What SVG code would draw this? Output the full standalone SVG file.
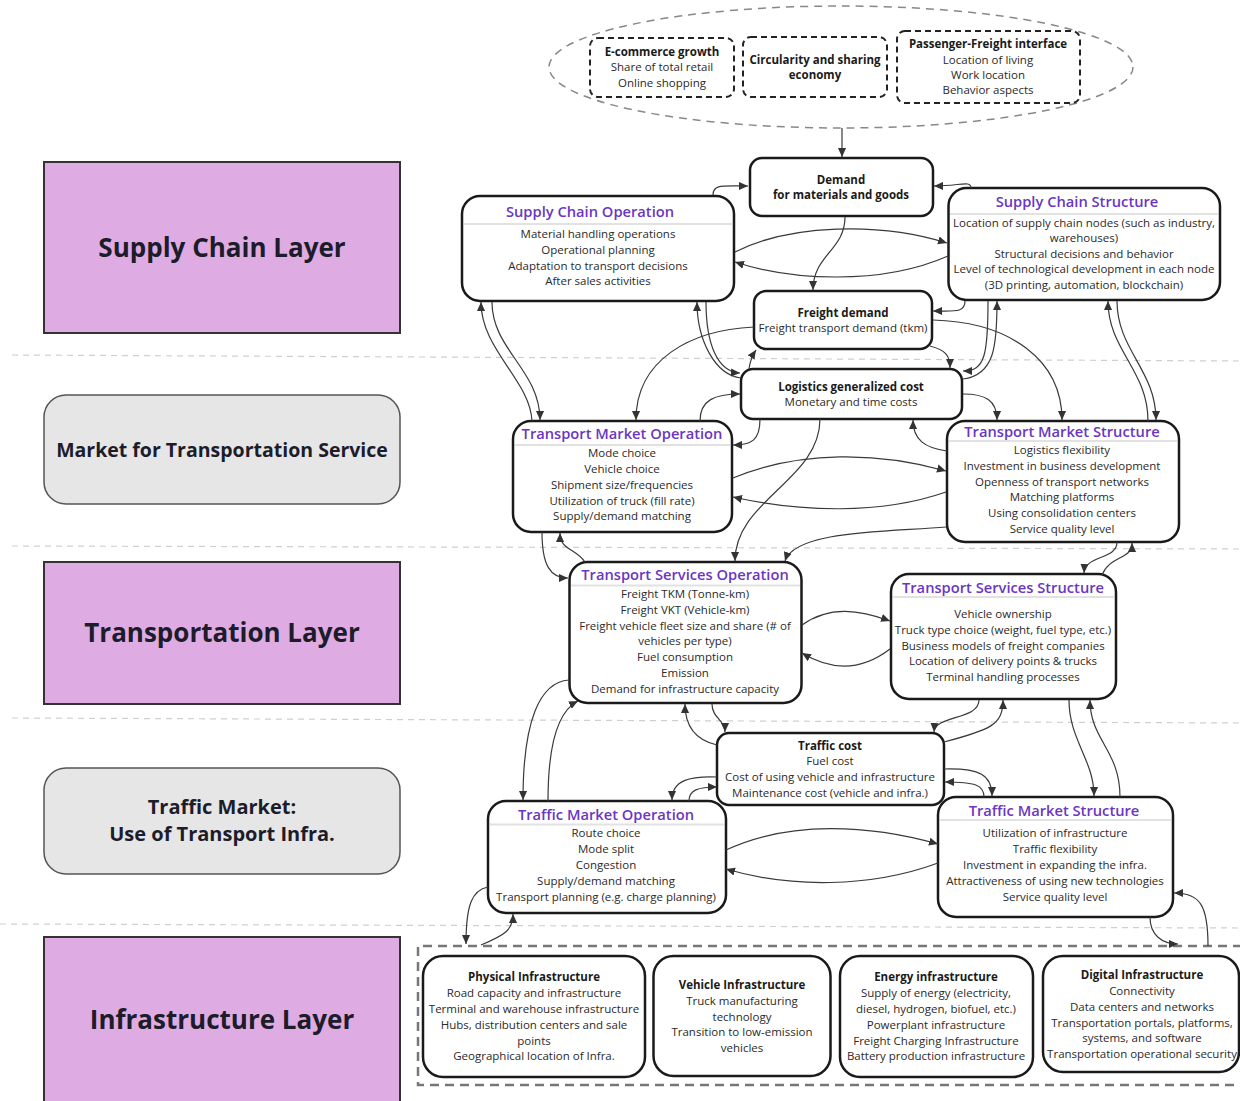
<svg xmlns="http://www.w3.org/2000/svg" width="1240" height="1101" viewBox="0 0 1240 1101">
<defs>
<marker id="ah" viewBox="0 0 10 10" refX="10" refY="5" markerWidth="9" markerHeight="9" markerUnits="userSpaceOnUse" orient="auto"><path d="M0,0.5 L10,5 L0,9.5 z" fill="#333"/></marker>
<style>
.lay{fill:#dfabe3;stroke:#333;stroke-width:2}
.mkt{fill:#e6e6e6;stroke:#555;stroke-width:1.5}
.layt{font-family:"Open Sans","Noto Sans",sans-serif;font-weight:700;fill:#1c1c2a;text-anchor:middle;dominant-baseline:central}
.sep{stroke:#cfcfcf;stroke-width:1.2;stroke-dasharray:6 5;fill:none}
.box{fill:#fff;stroke:#1a1a1a;stroke-width:2.5}
.dbox{fill:none;stroke:#222;stroke-width:2;stroke-dasharray:6 4}
.hdr{stroke:#e2e2e2;stroke-width:2}
.t{font-family:"Open Sans","Noto Sans",sans-serif;font-size:11.5px;fill:#2a2a2a;text-anchor:middle;dominant-baseline:central}
.b{font-weight:700;fill:#1a1a1a}
.ttl{font-size:14.7px;font-weight:600;fill:#6a36c2}
.con path{fill:none;stroke:#3a3a3a;stroke-width:1.2;marker-end:url(#ah)}
</style>
</defs>
<rect width="1240" height="1101" fill="#fff"/>

<g id="separators">
<path class="sep" d="M12,355 L1240,361"/>
<path class="sep" d="M12,546 L1240,549"/>
<path class="sep" d="M12,718 L1240,723"/>
<path class="sep" d="M0,924 L1240,928"/>
</g>

<g id="layer-supply-chain">
<rect class="lay" x="44" y="162" width="356" height="171"/>
<text class="layt" x="222" y="247" font-size="26">Supply Chain Layer</text>
</g>
<g id="layer-market-transport">
<rect class="mkt" x="44" y="395" width="356" height="109" rx="22"/>
<text class="layt" x="222" y="449" font-size="19.5">Market for Transportation Service</text>
</g>
<g id="layer-transportation">
<rect class="lay" x="44" y="562" width="356" height="142"/>
<text class="layt" x="222" y="632" font-size="26">Transportation Layer</text>
</g>
<g id="layer-traffic-market">
<rect class="mkt" x="44" y="768" width="356" height="106" rx="22"/>
<text class="layt" x="222" y="806" font-size="20">Traffic Market:</text>
<text class="layt" x="222" y="833" font-size="20">Use of Transport Infra.</text>
</g>
<g id="layer-infrastructure">
<rect class="lay" x="44" y="937" width="356" height="170"/>
<text class="layt" x="222" y="1019" font-size="26">Infrastructure Layer</text>
</g>

<g id="drivers">
<ellipse cx="841" cy="67" rx="292" ry="61" fill="none" stroke="#888" stroke-width="1.5" stroke-dasharray="8 6"/>
<g id="ecommerce">
<rect class="dbox" x="590" y="38" width="144" height="59" rx="8"/>
<text class="t b" x="662" y="51">E-commerce growth</text>
<text class="t" x="662" y="66">Share of total retail</text>
<text class="t" x="662" y="82">Online shopping</text>
</g>
<g id="circularity">
<rect class="dbox" x="743" y="37" width="144" height="60" rx="8"/>
<text class="t b" x="815" y="59">Circularity and sharing</text>
<text class="t b" x="815" y="74">economy</text>
</g>
<g id="passenger-freight">
<rect class="dbox" x="897" y="31" width="183" height="72" rx="8"/>
<text class="t b" x="988" y="43">Passenger-Freight interface</text>
<text class="t" x="988" y="59">Location of living</text>
<text class="t" x="988" y="74">Work location</text>
<text class="t" x="988" y="89">Behavior aspects</text>
</g>
</g>

<g id="infra-container">
<path d="M1242,946 H418 V1085 H1242" fill="none" stroke="#777" stroke-width="2.5" stroke-dasharray="9 6"/>
</g>

<g id="demand">
<rect class="box" x="750" y="158" width="183" height="58" rx="12"/>
<text class="t b" x="841" y="179">Demand</text>
<text class="t b" x="841" y="194">for materials and goods</text>
</g>
<g id="supply-chain-operation">
<rect class="box" x="462" y="196" width="272" height="105" rx="18"/>
<line class="hdr" x1="464" y1="224" x2="732" y2="224"/>
<text class="t ttl" x="590" y="211">Supply Chain Operation</text>
<text class="t" x="598" y="233">Material handling operations</text>
<text class="t" x="598" y="249">Operational planning</text>
<text class="t" x="598" y="265">Adaptation to transport decisions</text>
<text class="t" x="598" y="280">After sales activities</text>
</g>
<g id="supply-chain-structure">
<rect class="box" x="948.5" y="188" width="271.5" height="112" rx="18"/>
<line class="hdr" x1="950" y1="214" x2="1218" y2="214"/>
<text class="t ttl" x="1077" y="201">Supply Chain Structure</text>
<text class="t" x="1084" y="222">Location of supply chain nodes (such as industry,</text>
<text class="t" x="1084" y="237.5">warehouses)</text>
<text class="t" x="1084" y="253">Structural decisions and behavior</text>
<text class="t" x="1084" y="268.5">Level of technological development in each node</text>
<text class="t" x="1084" y="284">(3D printing, automation, blockchain)</text>
</g>
<g id="freight-demand">
<rect class="box" x="754" y="291" width="178" height="58" rx="12"/>
<text class="t b" x="843" y="312.5">Freight demand</text>
<text class="t" x="843" y="327.5">Freight transport demand (tkm)</text>
</g>
<g id="logistics-cost">
<rect class="box" x="741" y="369" width="221" height="50" rx="12"/>
<text class="t b" x="851" y="386">Logistics generalized cost</text>
<text class="t" x="851" y="401.5">Monetary and time costs</text>
</g>
<g id="transport-market-operation">
<rect class="box" x="513" y="421" width="219" height="111" rx="18"/>
<line class="hdr" x1="515" y1="445" x2="730" y2="445"/>
<text class="t ttl" x="622" y="433">Transport Market Operation</text>
<text class="t" x="622" y="452.5">Mode choice</text>
<text class="t" x="622" y="468">Vehicle choice</text>
<text class="t" x="622" y="484">Shipment size/frequencies</text>
<text class="t" x="622" y="500">Utilization of truck (fill rate)</text>
<text class="t" x="622" y="515.5">Supply/demand matching</text>
</g>
<g id="transport-market-structure">
<rect class="box" x="947" y="421" width="232" height="121" rx="18"/>
<line class="hdr" x1="949" y1="441" x2="1177" y2="441"/>
<text class="t ttl" x="1062" y="431">Transport Market Structure</text>
<text class="t" x="1062" y="449">Logistics flexibility</text>
<text class="t" x="1062" y="465">Investment in business development</text>
<text class="t" x="1062" y="481">Openness of transport networks</text>
<text class="t" x="1062" y="496.5">Matching platforms</text>
<text class="t" x="1062" y="512.5">Using consolidation centers</text>
<text class="t" x="1062" y="528">Service quality level</text>
</g>
<g id="transport-services-operation">
<rect class="box" x="569.5" y="562" width="232" height="141" rx="18"/>
<line class="hdr" x1="571" y1="585.5" x2="800" y2="585.5"/>
<text class="t ttl" x="685" y="574">Transport Services Operation</text>
<text class="t" x="685" y="593">Freight TKM (Tonne-km)</text>
<text class="t" x="685" y="609">Freight VKT (Vehicle-km)</text>
<text class="t" x="685" y="625">Freight vehicle fleet size and share (# of</text>
<text class="t" x="685" y="640.5">vehicles per type)</text>
<text class="t" x="685" y="656.5">Fuel consumption</text>
<text class="t" x="685" y="672">Emission</text>
<text class="t" x="685" y="688">Demand for infrastructure capacity</text>
</g>
<g id="transport-services-structure">
<rect class="box" x="891" y="574" width="225" height="125" rx="18"/>
<line class="hdr" x1="893" y1="597" x2="1114" y2="597"/>
<text class="t ttl" x="1003" y="586.5">Transport Services Structure</text>
<text class="t" x="1003" y="613.5">Vehicle ownership</text>
<text class="t" x="1003" y="629.5">Truck type choice (weight, fuel type, etc.)</text>
<text class="t" x="1003" y="645">Business models of freight companies</text>
<text class="t" x="1003" y="660.5">Location of delivery points &amp; trucks</text>
<text class="t" x="1003" y="676.5">Terminal handling processes</text>
</g>
<g id="traffic-cost">
<rect class="box" x="717" y="733" width="227" height="72" rx="12"/>
<text class="t b" x="830" y="745">Traffic cost</text>
<text class="t" x="830" y="760.5">Fuel cost</text>
<text class="t" x="830" y="776">Cost of using vehicle and infrastructure</text>
<text class="t" x="830" y="792">Maintenance cost (vehicle and infra.)</text>
</g>
<g id="traffic-market-operation">
<rect class="box" x="488" y="801" width="238" height="112" rx="18"/>
<line class="hdr" x1="490" y1="824.5" x2="724" y2="824.5"/>
<text class="t ttl" x="606" y="813.5">Traffic Market Operation</text>
<text class="t" x="606" y="832.5">Route choice</text>
<text class="t" x="606" y="848.5">Mode split</text>
<text class="t" x="606" y="864">Congestion</text>
<text class="t" x="606" y="880">Supply/demand matching</text>
<text class="t" x="606" y="896">Transport planning (e.g. charge planning)</text>
</g>
<g id="traffic-market-structure">
<rect class="box" x="938" y="797" width="235" height="120" rx="18"/>
<line class="hdr" x1="940" y1="820" x2="1171" y2="820"/>
<text class="t ttl" x="1054" y="809.5">Traffic Market Structure</text>
<text class="t" x="1055" y="832.5">Utilization of infrastructure</text>
<text class="t" x="1055" y="848.5">Traffic flexibility</text>
<text class="t" x="1055" y="864">Investment in expanding the infra.</text>
<text class="t" x="1055" y="880">Attractiveness of using new technologies</text>
<text class="t" x="1055" y="896">Service quality level</text>
</g>
<g id="physical-infrastructure">
<rect class="box" x="423" y="956" width="222" height="121" rx="20"/>
<text class="t b" x="534" y="976">Physical Infrastructure</text>
<text class="t" x="534" y="992.5">Road capacity and infrastructure</text>
<text class="t" x="534" y="1008">Terminal and warehouse infrastructure</text>
<text class="t" x="534" y="1024">Hubs, distribution centers and sale</text>
<text class="t" x="534" y="1040">points</text>
<text class="t" x="534" y="1055.5">Geographical location of Infra.</text>
</g>
<g id="vehicle-infrastructure">
<rect class="box" x="653.5" y="956" width="177" height="120" rx="20"/>
<text class="t b" x="742" y="984">Vehicle Infrastructure</text>
<text class="t" x="742" y="1000">Truck manufacturing</text>
<text class="t" x="742" y="1016">technology</text>
<text class="t" x="742" y="1031.5">Transition to low-emission</text>
<text class="t" x="742" y="1047">vehicles</text>
</g>
<g id="energy-infrastructure">
<rect class="box" x="840" y="956" width="193" height="121" rx="20"/>
<text class="t b" x="936" y="976">Energy infrastructure</text>
<text class="t" x="936" y="992.5">Supply of energy (electricity,</text>
<text class="t" x="936" y="1008">diesel, hydrogen, biofuel, etc.)</text>
<text class="t" x="936" y="1024">Powerplant infrastructure</text>
<text class="t" x="936" y="1040">Freight Charging Infrastructure</text>
<text class="t" x="936" y="1055.5">Battery production infrastructure</text>
</g>
<g id="digital-infrastructure">
<rect class="box" x="1043" y="956" width="196" height="116" rx="20"/>
<text class="t b" x="1142" y="974">Digital Infrastructure</text>
<text class="t" x="1142" y="990.5">Connectivity</text>
<text class="t" x="1142" y="1006.5">Data centers and networks</text>
<text class="t" x="1142" y="1022">Transportation portals, platforms,</text>
<text class="t" x="1142" y="1037.5">systems, and software</text>
<text class="t" x="1142" y="1053">Transportation operational security</text>
</g>

<g id="connectors" class="con">
<path d="M842,128 L842,157"/>
<path d="M713,195 C713,184 722,186 748,186"/>
<path d="M971,188 C971,180 960,186 934,186"/>
<path d="M845,217 C845,250 813,255 813,290"/>
<path d="M735,252 C790,224 880,222 947,243"/>
<path d="M948,256 C880,286 790,280 735,262"/>
<path d="M965,301 C965,313 955,311 933,311"/>
<path d="M933,320 C1010,322 1062,360 1062,420"/>
<path d="M930,346 C945,350 950,355 950,368"/>
<path d="M754,327 C690,330 636,360 636,420"/>
<path d="M749,369 C750,361 752,356 756,350"/>
<path d="M741,378 C715,375 697,340 697,302"/>
<path d="M706,302 C706,345 718,372 740,373"/>
<path d="M532,421 C530,380 481,350 481,302"/>
<path d="M492,302 C492,350 540,370 540,420"/>
<path d="M700,421 C700,400 715,394 740,394"/>
<path d="M760,419 C760,440 752,445 733,445"/>
<path d="M820,419 C820,480 735,500 735,561"/>
<path d="M947,451 C925,448 913,440 913,420"/>
<path d="M963,394 C985,394 997,400 997,420"/>
<path d="M988,301 C988,355 985,371 963,371"/>
<path d="M963,379 C995,375 997,345 997,301"/>
<path d="M1148,421 C1148,370 1108,350 1108,301"/>
<path d="M1117,301 C1117,350 1156,370 1156,420"/>
<path d="M733,478 C800,450 880,452 946,471"/>
<path d="M946,492 C880,515 800,512 733,497"/>
<path d="M946,527 C890,532 795,530 785,561"/>
<path d="M542,532 C542,565 550,578 568,578"/>
<path d="M585,562 C575,548 560,550 560,533"/>
<path d="M1117,542 C1117,560 1085,555 1084,573"/>
<path d="M1102,575 C1110,555 1132,560 1132,543"/>
<path d="M802,625 C830,605 860,610 890,621"/>
<path d="M890,649 C860,672 830,670 802,653"/>
<path d="M712,704 C712,718 725,720 725,732"/>
<path d="M717,745 C695,740 685,725 685,704"/>
<path d="M979,700 C979,720 935,715 934,732"/>
<path d="M944,742 C990,730 1003,725 1003,700"/>
<path d="M1069,700 C1069,740 1094,760 1094,796"/>
<path d="M1120,797 C1120,750 1090,740 1090,700"/>
<path d="M717,777 C690,776 672,780 672,800"/>
<path d="M689,801 C689,790 698,787 717,787"/>
<path d="M944,769 C980,768 992,775 992,796"/>
<path d="M984,797 C984,785 975,782 945,782"/>
<path d="M726,850 C790,820 870,825 938,844"/>
<path d="M938,863 C870,888 790,888 726,869"/>
<path d="M569,680 C540,682 523,720 523,800"/>
<path d="M548,801 C548,740 560,710 578,701"/>
<path d="M488,887 C472,890 466,905 466,944"/>
<path d="M481,945 C505,935 513,930 513,914"/>
<path d="M1150,917 C1150,935 1162,944 1178,944"/>
<path d="M1208,946 C1208,905 1200,893 1174,893"/>
</g>
</svg>
